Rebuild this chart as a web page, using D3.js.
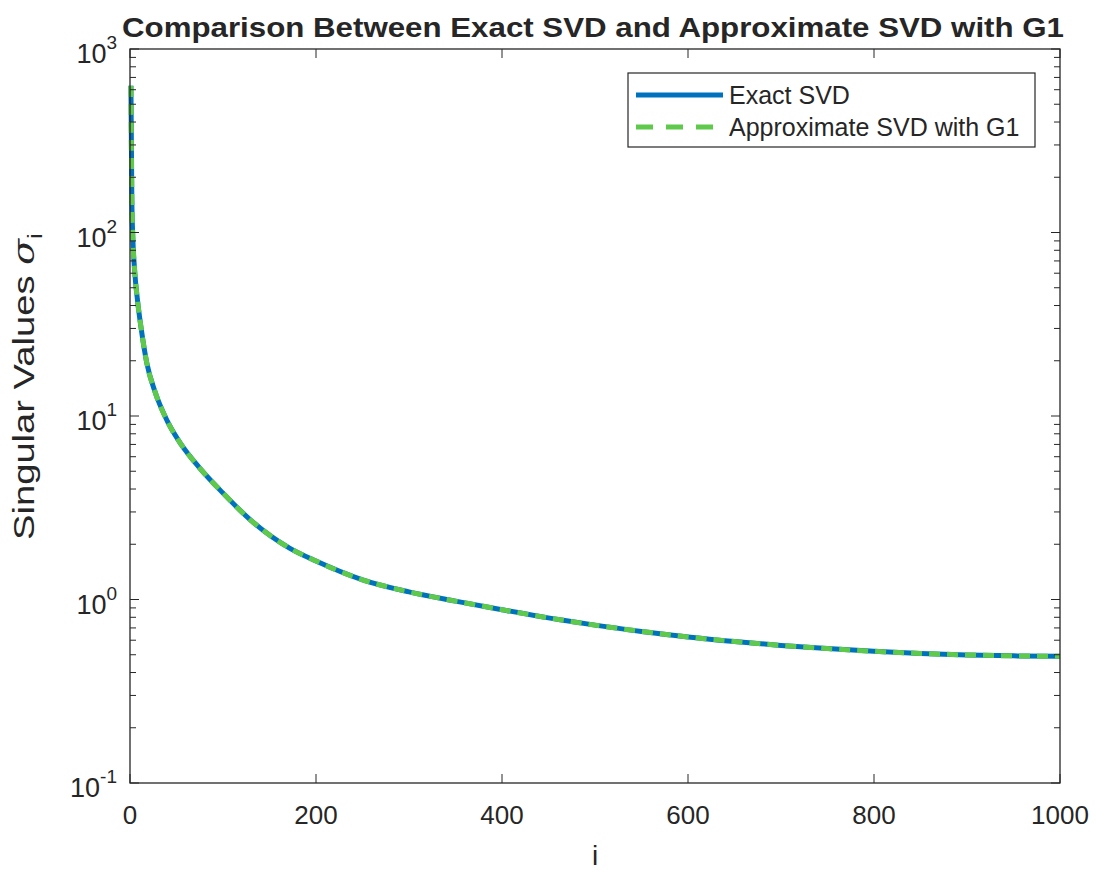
<!DOCTYPE html>
<html>
<head>
<meta charset="utf-8">
<script src="https://cdn.jsdelivr.net/npm/d3@7"></script>
<style>
  body { margin: 0; background: #fff; }
  text { font-family: "Liberation Sans", Arial, sans-serif; fill: #262626; }
</style>
</head>
<body>
<div class="chart"></div>
<script>
// index values (i) and singular values
const idx = [1, 2, 3, 5, 8, 12, 18, 27, 40, 55, 75, 100, 130, 172, 200, 250, 300, 350, 400, 466, 500, 550, 600, 650, 700, 750, 800, 850, 900, 950, 1000];
const exactSigma = [630, 150, 95, 62, 43, 30, 19.5, 13.5, 9.4, 7.0, 5.2, 3.8, 2.7, 1.9, 1.62, 1.28, 1.1, 0.98, 0.88, 0.77, 0.725, 0.67, 0.625, 0.59, 0.562, 0.54, 0.522, 0.508, 0.499, 0.493, 0.49];
const approxSigma = [630, 150, 95, 62, 43, 30, 19.5, 13.5, 9.4, 7.0, 5.2, 3.8, 2.7, 1.9, 1.62, 1.28, 1.1, 0.98, 0.88, 0.77, 0.725, 0.67, 0.625, 0.59, 0.562, 0.54, 0.522, 0.508, 0.499, 0.493, 0.49];
const xTicks = [0, 200, 400, 600, 800, 1000];
const yExponents = [-1, 0, 1, 2, 3];
const seriesNames = ["Exact SVD", "Approximate SVD with G1"];

const W = 1096, H = 870;
const margin = { top: 49, right: 36, bottom: 87, left: 130 };
const width = W - margin.left - margin.right;
const height = H - margin.top - margin.bottom;

const svg = d3.select(".chart").append("svg")
  .attr("width", W).attr("height", H);
const g = svg.append("g")
  .attr("transform", `translate(${margin.left},${margin.top})`);

const x = d3.scaleLinear().domain([0, 1000]).range([0, width]);
const y = d3.scaleLog().domain([0.1, 1000]).range([height, 0]);

// minor log ticks
const minor = [];
yExponents.slice(0, -1).forEach(e => {
  for (let k = 2; k <= 9; k++) minor.push(k * Math.pow(10, e));
});

const axisColor = "#262626";

// curves
const line = d3.line()
  .x((d, i) => x(idx[i]))
  .y(d => y(d))
  .curve(d3.curveMonotoneX);
g.append("path").datum(exactSigma)
  .attr("d", line)
  .attr("fill", "none")
  .attr("stroke", "#0072BD")
  .attr("stroke-width", 5);
g.append("path").datum(approxSigma)
  .attr("d", line)
  .attr("fill", "none")
  .attr("stroke", "#5ec94a")
  .attr("stroke-width", 5)
  .attr("stroke-dasharray", "11,7");

// box
g.append("rect")
  .attr("width", width).attr("height", height)
  .attr("fill", "none").attr("stroke", axisColor).attr("stroke-width", 1.3);

// x ticks (inside, bottom and top)
xTicks.forEach(t => {
  g.append("line").attr("x1", x(t)).attr("x2", x(t))
    .attr("y1", height).attr("y2", height - 9).attr("stroke", axisColor);
  g.append("line").attr("x1", x(t)).attr("x2", x(t))
    .attr("y1", 0).attr("y2", 9).attr("stroke", axisColor);
  g.append("text").attr("x", x(t)).attr("y", height + 41)
    .attr("text-anchor", "middle").attr("font-size", 26).text(t);
});

// y ticks
yExponents.forEach(e => {
  const v = Math.pow(10, e);
  g.append("line").attr("x1", 0).attr("x2", 9)
    .attr("y1", y(v)).attr("y2", y(v)).attr("stroke", axisColor);
  g.append("line").attr("x1", width).attr("x2", width - 9)
    .attr("y1", y(v)).attr("y2", y(v)).attr("stroke", axisColor);
  const lab = g.append("text").attr("x", -13).attr("y", y(v) + 14)
    .attr("text-anchor", "end").attr("font-size", 27);
  lab.append("tspan").text("10");
  lab.append("tspan").attr("dy", -14).attr("font-size", 19).text(e);
});
minor.forEach(v => {
  g.append("line").attr("x1", 0).attr("x2", 6)
    .attr("y1", y(v)).attr("y2", y(v)).attr("stroke", axisColor);
  g.append("line").attr("x1", width).attr("x2", width - 6)
    .attr("y1", y(v)).attr("y2", y(v)).attr("stroke", axisColor);
});

// title
svg.append("text")
  .attr("x", 122).attr("y", 37)
  .attr("font-size", 28).attr("font-weight", "bold")
  .attr("fill", "#000")
  .attr("textLength", 942).attr("lengthAdjust", "spacingAndGlyphs")
  .text("Comparison Between Exact SVD and Approximate SVD with G1");

// axis labels
svg.append("text")
  .attr("x", margin.left + width / 2).attr("y", 865)
  .attr("text-anchor", "middle").attr("font-size", 28).text("i");

const yl = svg.append("text")
  .attr("transform", `translate(34,540) rotate(-90)`)
  .attr("font-size", 29)
  .attr("textLength", 307).attr("lengthAdjust", "spacingAndGlyphs");
yl.append("tspan").text("Singular Values ");
yl.append("tspan").attr("font-family", "'DejaVu Serif', serif")
  .attr("font-style", "italic").text("σ");
yl.append("tspan").attr("dy", 8).attr("font-size", 20).text("i");

// legend
const leg = svg.append("g").attr("transform", "translate(628,73)");
leg.append("rect").attr("width", 407).attr("height", 74)
  .attr("fill", "#fff").attr("stroke", axisColor).attr("stroke-width", 1.2);
const legStyles = [
  { color: "#0072BD", dash: null },
  { color: "#5ec94a", dash: "17,13" }
];
seriesNames.forEach((name, i) => {
  const cy = 22 + i * 32;
  leg.append("line").attr("x1", 8).attr("x2", 95)
    .attr("y1", cy).attr("y2", cy)
    .attr("stroke", legStyles[i].color).attr("stroke-width", 5)
    .attr("stroke-dasharray", legStyles[i].dash);
  leg.append("text").attr("x", 101).attr("y", cy + 9)
    .attr("font-size", 25).text(name);
});
</script>
</body>
</html>
